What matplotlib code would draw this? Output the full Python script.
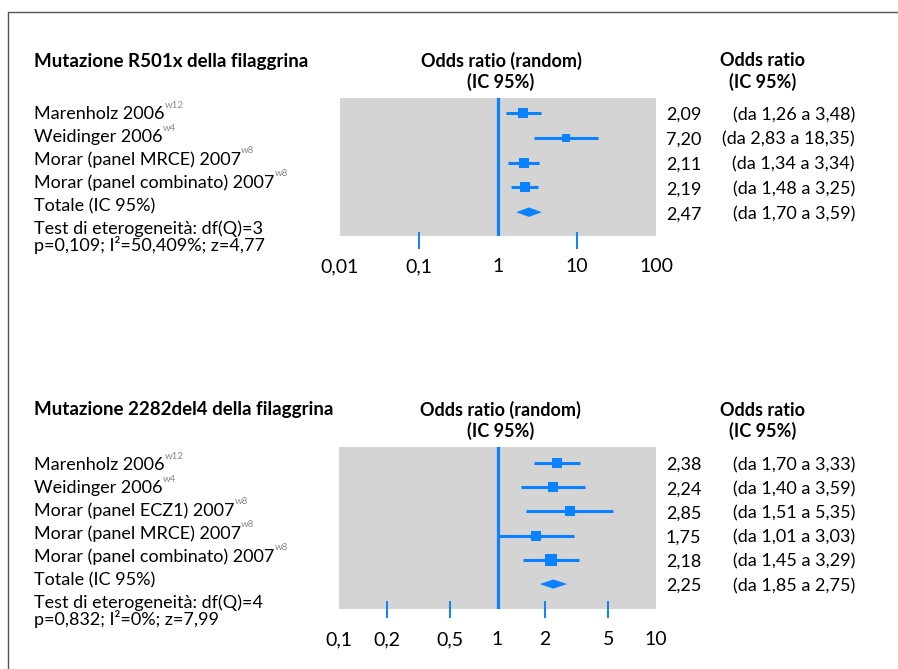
import matplotlib
matplotlib.use("Agg")
import matplotlib.pyplot as plt
from matplotlib.lines import Line2D

plt.rcParams['font.family'] = ['Lato', 'DejaVu Sans']

# --- data: mutazione R501x ---
r501_studies = ["Marenholz 2006", "Weidinger 2006",
                "Morar (panel MRCE) 2007", "Morar (panel combinato) 2007"]
r501_refs = ["w12", "w4", "w8", "w8"]
r501_or = [2.09, 7.20, 2.11, 2.19]
r501_lo = [1.26, 2.83, 1.34, 1.48]
r501_hi = [3.48, 18.35, 3.34, 3.25]
r501_weight = [1.0, 0.7, 1.0, 1.0]
r501_total = [2.47, 1.70, 3.59]
r501_het = ["Test di eterogeneità: df(Q)=3", "p=0,109; I²=50,409%; z=4,77"]
r501_ticks = [0.01, 0.1, 1, 10, 100]
r501_ticklabels = ["0,01", "0,1", "1", "10", "100"]

# --- data: mutazione 2282del4 ---
del4_studies = ["Marenholz 2006", "Weidinger 2006", "Morar (panel ECZ1) 2007",
                "Morar (panel MRCE) 2007", "Morar (panel combinato) 2007"]
del4_refs = ["w12", "w4", "w8", "w8", "w8"]
del4_or = [2.38, 2.24, 2.85, 1.75, 2.18]
del4_lo = [1.70, 1.40, 1.51, 1.01, 1.45]
del4_hi = [3.33, 3.59, 5.35, 3.03, 3.29]
del4_weight = [1.0, 0.9, 1.0, 1.0, 1.1]
del4_total = [2.25, 1.85, 2.75]
del4_het = ["Test di eterogeneità: df(Q)=4", "p=0,832; I²=0%; z=7,99"]
del4_ticks = [0.1, 0.2, 0.5, 1, 2, 5, 10]
del4_ticklabels = ["0,1", "0,2", "0,5", "1", "2", "5", "10"]

W, H = 898, 669
BLUE = '#0A82FF'
GRAY = '#D4D4D4'
FS = 13


def px(x, y):
    return x / W, 1 - y / H


def fmt(v):
    return f"{v:.2f}".replace('.', ',')


def draw_panel(fig, box, ylim, title, title_y, label_y0, studies, refs, ors, los, his,
               weights, total, het, ticks, ticklabels, tick_in, tick_out):
    x0, y0, x1, y1 = box
    ax = fig.add_axes([x0 / W, 1 - y1 / H, (x1 - x0) / W, (y1 - y0) / H])
    ax.set_xscale('log')
    ax.set_xlim(ticks[0], ticks[-1])
    ax.set_ylim(*ylim)
    ax.set_facecolor(GRAY)
    for s in ax.spines.values():
        s.set_visible(False)

    ax.axvline(1, color=BLUE, lw=2.3, zorder=2)

    n = len(studies)
    for i in range(n):
        ax.plot([los[i], his[i]], [i, i], color=BLUE, lw=2.2, solid_capstyle='butt', zorder=3)
        ax.plot(ors[i], i, marker='s', color=BLUE, ms=7.6 * weights[i], mew=0, zorder=4)

    # pooled estimate as a diamond
    est, lo, hi = total
    h = 0.19
    ax.fill([lo, est, hi, est], [n, n - h, n, n + h], color=BLUE, lw=0, zorder=4)

    # labels on every tick, blue dashes only on the inner ones
    ax.set_xticks(ticks)
    ax.set_xticklabels(ticklabels)
    ax.minorticks_off()
    ax.tick_params(axis='x', length=0, pad=16, labelsize=14)
    ax.set_yticks([])
    inner = [t for t in ticks[1:-1] if t != 1]
    ax.vlines(inner, -tick_out, tick_in, transform=ax.get_xaxis_transform(),
              color=BLUE, lw=1.4, clip_on=False)

    # headers
    fig.text(*px(34, title_y), title, fontsize=FS + 0.5, fontweight='bold', va='center')
    cx = (x0 + x1) / 2 + 3
    for x, top in [(cx, "Odds ratio (random)"), (763, "Odds ratio")]:
        fig.text(*px(x, title_y), top, fontsize=FS, fontweight='bold',
                 ha='center', va='center')
        fig.text(*px(x, title_y + 21), "(IC 95%)", fontsize=FS, fontweight='bold',
                 ha='center', va='center')

    # study labels on the left, one line every 23 px
    names = studies + ["Totale (IC 95%)"] + het
    for i, name in enumerate(names):
        yy = label_y0 + 23 * i if i <= n + 1 else label_y0 + 23 * (n + 1) + 16
        t = fig.text(*px(34, yy), name, fontsize=FS, va='center', ha='left')
        if i < n:
            ax.annotate(refs[i], xy=(1, 0.78), xycoords=t, fontsize=7,
                        color='#8a8a8a', va='bottom', ha='left', annotation_clip=False)

    # odds ratios on the right, aligned to the rows
    vals = list(zip(ors, los, his)) + [tuple(total)]
    for i, (e, l, u) in enumerate(vals):
        ax.annotate(fmt(e), xy=(666 / W, i + 0.08), xycoords=('figure fraction', 'data'),
                    fontsize=FS, va='center', ha='left', annotation_clip=False)
        ax.annotate(f"(da {fmt(l)} a {fmt(u)})", xy=(855 / W, i + 0.08),
                    xycoords=('figure fraction', 'data'),
                    fontsize=FS, va='center', ha='right', annotation_clip=False)
    return ax


fig = plt.figure(figsize=(W / 100, H / 100), dpi=100)
fig.patch.set_facecolor('white')

# frame: left and top rule only
fig.add_artist(Line2D([8 / W, 8 / W, 1], [0, 1 - 12 / H, 1 - 12 / H],
                      transform=fig.transFigure, color='#555555', lw=1.0))

draw_panel(fig, (340, 98, 656, 236), (4.96, -0.6),
           "Mutazione R501x della filaggrina", 61, 114,
           r501_studies, r501_refs, r501_or, r501_lo, r501_hi, r501_weight,
           r501_total, r501_het, r501_ticks, r501_ticklabels, 0.03, 0.095)

draw_panel(fig, (339, 447, 656, 609), (6.03, -0.66),
           "Mutazione 2282del4 della filaggrina", 410, 465,
           del4_studies, del4_refs, del4_or, del4_lo, del4_hi, del4_weight,
           del4_total, del4_het, del4_ticks, del4_ticklabels, 0.05, 0.055)

fig.savefig("out.png", dpi=100)
